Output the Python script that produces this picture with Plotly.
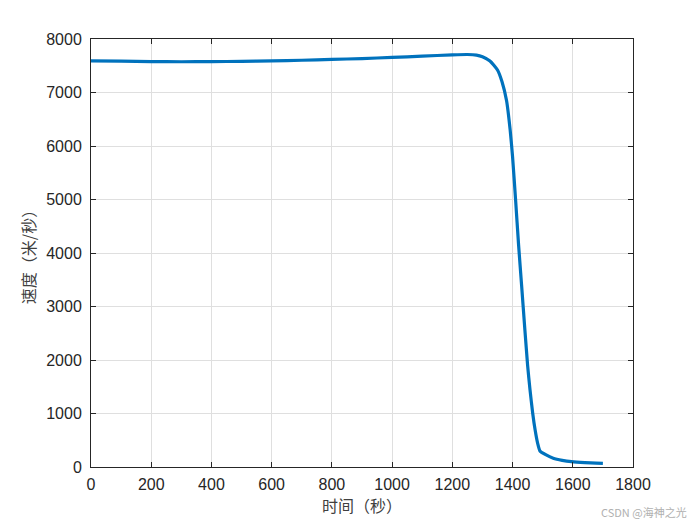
import plotly.graph_objects as go

time_s = [0, 100, 200, 300, 400, 500, 600, 700, 800, 900, 1000, 1100, 1200, 1250,
          1280, 1300, 1325, 1350, 1365, 1380, 1392, 1400, 1410, 1420, 1430, 1441,
          1450, 1458, 1467, 1475, 1483, 1491, 1510, 1535, 1565, 1596, 1640, 1700]
speed = [7590, 7585, 7578, 7575, 7577, 7582, 7590, 7603, 7618, 7635, 7655, 7680,
         7703, 7710, 7700, 7670, 7590, 7420, 7200, 6850, 6300, 5800, 5000, 4150,
         3400, 2560, 1900, 1440, 1000, 690, 450, 300, 230, 165, 125, 100, 82, 68]

x_ticks = [0, 200, 400, 600, 800, 1000, 1200, 1400, 1600, 1800]
y_ticks = [0, 1000, 2000, 3000, 4000, 5000, 6000, 7000, 8000]

fig = go.Figure()
fig.add_trace(go.Scatter(x=time_s, y=speed, mode="lines",
                         line=dict(color="#0072BD", width=3.2, shape="spline", smoothing=0.5),
                         showlegend=False))

axis_common = dict(showline=True, linecolor="#262626", linewidth=1, mirror="ticks",
                   ticks="inside", ticklen=5, tickcolor="#262626",
                   showgrid=True, gridcolor="#dfdfdf", gridwidth=1, zeroline=False,
                   tickfont=dict(family="Liberation Sans, Arial", size=16, color="#262626"))

fig.update_xaxes(range=[0, 1800], tickvals=x_ticks, ticklabelstandoff=3, **axis_common,
                 title=dict(text="时间（秒）", font=dict(family="Noto Sans CJK SC", size=16, color="#404040"),
                            standoff=6))
fig.update_yaxes(range=[0, 8000], tickvals=y_ticks, ticklabelstandoff=5, **axis_common,
                 title=dict(text="速度（米/秒）", font=dict(family="Noto Sans CJK SC", size=16, color="#404040"),
                            standoff=6))

fig.add_annotation(text="CSDN @海神之光", xref="paper", yref="paper", x=1.103, y=-0.105,
                   xanchor="right", yanchor="middle", showarrow=False,
                   font=dict(family="Noto Sans CJK SC", size=11, color="#b0b0b0"))

fig.update_layout(width=700, height=525, paper_bgcolor="white", plot_bgcolor="white",
                  margin=dict(l=91, r=67, t=39, b=58))

fig.write_html("out.html", config={"displayModeBar": False},
               post_script="document.body.style.margin='0';document.body.style.padding='0';")
